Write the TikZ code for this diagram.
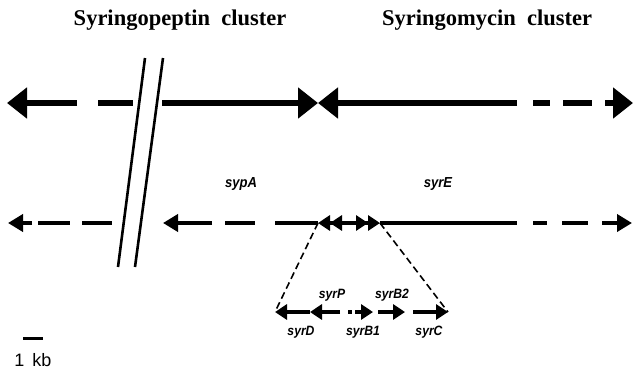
\documentclass[tikz,border=0pt]{standalone}
\usepackage{fontspec}
\setmainfont{Liberation Serif}
\setsansfont{Liberation Sans}
\newfontfamily\genefont[FakeStretch=0.9]{Liberation Sans}
\usetikzlibrary{arrows.meta}
\begin{document}
\begin{tikzpicture}[x=1pt,y=-1pt,
  bigline/.style={line width=6pt},
  bighead/.style={-{Triangle[length=20pt,width=30pt]}},
  midline/.style={line width=4pt},
  midhead/.style={-{Triangle[length=15pt,width=17pt]}},
  twohead/.style={-{Triangle[length=12pt,width=15pt] Triangle[length=12pt,width=15pt]}},
  genehead/.style={-{Triangle[length=12pt,width=15pt]}},
  breakline/.style={line width=2.6pt},
  guide/.style={line width=1.6pt,dash pattern=on 7pt off 4pt},
  title/.style={font=\fontsize{22.5}{26}\selectfont\bfseries},
  gene/.style={font=\fontsize{13.5}{15}\selectfont\genefont\bfseries\itshape},
  locus/.style={font=\fontsize{14.5}{17}\selectfont\genefont\bfseries\itshape}]
\useasboundingbox (0,0) rectangle (634,372);

% cluster titles
\node[title] (tpep) at (180,20) {Syringopeptin\ \ cluster};
\node[title] (tmyc) at (487,20) {Syringomycin\ \ cluster};

% top row: the two clusters
\coordinate (junction) at (318,103);
\draw[bigline,bighead] (77,103) -- (7,103);
\draw[bigline] (98,103) -- (133,103);
\draw[bigline,bighead] (162,103) -- (junction);
\draw[bigline,bighead] (517,103) -- (junction);
\draw[bigline] (533,103) -- (550,103);
\draw[bigline] (563,103) -- (592,103);
\draw[bigline,bighead] (605,103) -- (633,103);

% gap marks
\draw[breakline] (145,58) -- (118,267);
\draw[breakline] (163,58) -- (135,267);

% second row: sypA and syrE
\node[locus] (sypA) at (241,184) {sypA};
\node[locus] (syrE) at (438,184) {syrE};
\coordinate (zl) at (318,223);
\coordinate (zr) at (380,223);
\draw[midline,midhead] (32,223) -- (8,223);
\draw[midline] (38,223) -- (70,223);
\draw[midline] (82,223) -- (112,223);
\draw[midline,midhead] (212,223) -- (163,223);
\draw[midline] (225,223) -- (255,223);
\draw[midline] (275,223) -- (zl);
\draw[midline,twohead] (355,223) -- (zl);
\draw[midline,twohead] (343,223) -- (zr);
\draw[midline] (zr) -- (517,223);
\draw[midline] (533,223) -- (547,223);
\draw[midline] (562,223) -- (588,223);
\draw[midline,midhead] (602,223) -- (632,223);

% enlarged region
\coordinate (dl) at (275,312);
\coordinate (cr) at (448,312);
\draw[guide] (zl) -- (dl);
\draw[guide] (zr) -- (cr);
\draw[midline,genehead] (310,312) -- (dl);
\draw[midline,genehead] (340,312) -- (310,312);
\draw[midline] (348,312) -- (352,312);
\draw[midline,genehead] (355,312) -- (373,312);
\draw[midline,genehead] (378,312) -- (405,312);
\draw[midline,genehead] (413,312) -- (cr);

\node[gene] (syrP)  at (332,295) {syrP};
\node[gene] (syrB2) at (392,295) {syrB2};
\node[gene] (syrD)  at (301,332) {syrD};
\node[gene] (syrB1) at (363,332) {syrB1};
\node[gene] (syrC)  at (429,332) {syrC};

% scale bar
\draw[line width=3pt] (23,338) -- (43,338);
\node[font=\fontsize{18}{21}\selectfont\sffamily] (kb) at (33,360) {1\hspace{8pt}kb};
\end{tikzpicture}
\end{document}
